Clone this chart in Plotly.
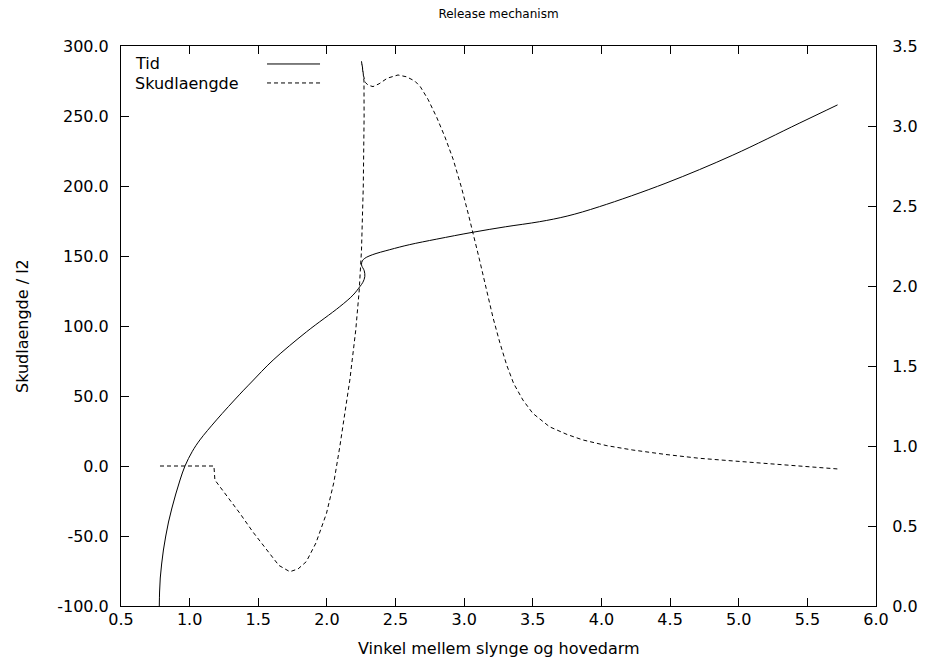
import plotly.graph_objects as go

# Tid (right axis, y2)
tid_x = [0.779, 0.781, 0.786, 0.796, 0.809, 0.826, 0.846, 0.871, 0.899, 0.930, 0.966, 1.02,
         1.075, 1.196, 1.366, 1.451, 1.608, 1.852, 2.094, 2.19, 2.239, 2.262, 2.276, 2.272,
         2.252, 2.258, 2.276, 2.33, 2.458, 2.6, 2.8, 3.064, 3.3, 3.55, 3.75, 3.986, 4.47,
         4.957, 5.44, 5.72]
tid_y = [0.0, 0.0875, 0.175, 0.2625, 0.35, 0.4375, 0.525, 0.6125, 0.70, 0.7875, 0.875, 0.967,
         1.038, 1.163, 1.324, 1.4, 1.537, 1.714, 1.871, 1.943, 1.995, 2.023, 2.058, 2.095,
         2.132, 2.157, 2.173, 2.195, 2.227, 2.258, 2.293, 2.336, 2.37, 2.402, 2.437, 2.496,
         2.643, 2.818, 3.017, 3.132]

# Skudlaengde (left axis)
sk_x = [0.784, 1.177, 1.184, 1.27, 1.366, 1.46, 1.56, 1.65, 1.73, 1.79, 1.85, 1.92, 1.997,
        2.05, 2.094, 2.13, 2.167, 2.21, 2.235, 2.252, 2.265, 2.271, 2.27, 2.262, 2.252,
        2.266, 2.28, 2.30, 2.336, 2.38, 2.44, 2.518, 2.58, 2.64, 2.68, 2.736, 2.8,
        2.86, 2.92, 2.98, 3.03, 3.064, 3.11, 3.16, 3.21, 3.26, 3.31, 3.36, 3.428, 3.50,
        3.622, 3.75, 3.865, 4.04, 4.229, 4.47, 4.714, 4.96, 5.2, 5.46, 5.72]
sk_y = [0.0, 0.0, -10.0, -21.0, -33.8, -47.0, -60.0, -71.0, -75.5, -73.5, -68.3, -55.0, -33.8,
        -12.0, 13.8, 37.0, 61.4, 97.0, 125.0, 154.3, 200.0, 250.0, 275.0, 283.0, 289.0,
        279.0, 274.0, 272.0, 271.0, 273.0, 277.0, 279.3, 278.0, 275.0, 271.0, 262.0, 249.0,
        235.0, 219.0, 199.0, 180.0, 167.0, 148.0, 127.0, 106.0, 88.0, 72.0, 59.0, 47.1, 37.6,
        28.0, 22.5, 18.6, 14.5, 11.4, 8.2, 5.5, 3.6, 1.9, 0.0, -2.1]

xticks = [0.5, 1.0, 1.5, 2.0, 2.5, 3.0, 3.5, 4.0, 4.5, 5.0, 5.5, 6.0]
yticks = [-100, -50, 0, 50, 100, 150, 200, 250, 300]
y2ticks = [0.0, 0.5, 1.0, 1.5, 2.0, 2.5, 3.0, 3.5]

FONT = "DejaVu Sans, Liberation Sans, Arial, sans-serif"
FS = 16

fig = go.Figure()
fig.add_trace(go.Scatter(x=tid_x, y=tid_y, yaxis="y2", mode="lines", name="Tid",
                         line=dict(color="black", width=1, shape="spline", smoothing=1.0),
                         showlegend=False))
fig.add_trace(go.Scatter(x=sk_x, y=sk_y, mode="lines", name="Skudlaengde",
                         line=dict(color="black", width=1, dash="4px,3px"),
                         showlegend=False))

axis_common = dict(showgrid=False, zeroline=False, showline=True, linecolor="black",
                   linewidth=1, ticks="inside", ticklen=8, tickcolor="black", tickwidth=1,
                   automargin=False,
                   tickfont=dict(family=FONT, size=FS, color="black"))

fig.update_layout(
    width=931, height=664,
    margin=dict(l=121, r=55, t=46, b=58),
    paper_bgcolor="white", plot_bgcolor="white",
    font=dict(family=FONT, size=FS, color="black"),
    title=dict(text="Release mechanism", x=0.5, xref="paper", xanchor="center",
               y=1 - 14 / 664, yanchor="middle", font=dict(family=FONT, size=12)),
    xaxis=dict(range=[0.5, 6.0], tickvals=xticks, ticktext=[f"{v:.1f}" for v in xticks],
               mirror="ticks", ticklabelstandoff=-1, **axis_common),
    yaxis=dict(range=[-100, 300], tickvals=yticks, ticktext=[f"{v:.1f}" for v in yticks],
               ticklabelstandoff=8, **axis_common),
    yaxis2=dict(range=[0, 3.5], tickvals=y2ticks, ticktext=[f"{v:.1f}" for v in y2ticks],
                overlaying="y", side="right", ticklabelstandoff=12, **axis_common),
)

# axis titles
fig.add_annotation(x=0.5, y=1 - (648 - 46) / 560, xref="paper", yref="paper",
                   text="Vinkel mellem slynge og hovedarm", showarrow=False,
                   xanchor="center", yanchor="middle", font=dict(family=FONT, size=FS))
fig.add_annotation(x=(22 - 121) / 755, y=0.5, xref="paper", yref="paper",
                   text="Skudlaengde / l2", showarrow=False, textangle=-90,
                   xanchor="center", yanchor="middle", font=dict(family=FONT, size=FS))

# gnuplot-style key: text on the left, sample line on the right
fig.add_annotation(x=0.0159, y=0.9679, xref="paper", yref="paper", text="Tid",
                   showarrow=False, xanchor="left", yanchor="middle",
                   font=dict(family=FONT, size=FS))
fig.add_annotation(x=0.0159, y=0.933, xref="paper", yref="paper", text="Skudlaengde",
                   showarrow=False, xanchor="left", yanchor="middle",
                   font=dict(family=FONT, size=FS))
fig.add_shape(type="line", xref="paper", yref="paper", x0=0.1934, x1=0.2636,
              y0=0.9679, y1=0.9679, line=dict(color="black", width=1))
fig.add_shape(type="line", xref="paper", yref="paper", x0=0.1934, x1=0.2636,
              y0=0.934, y1=0.934, line=dict(color="black", width=1, dash="4px,3px"))

fig.write_html("out.html", config={"displayModeBar": False},
               post_script="document.body.style.margin='0';")
